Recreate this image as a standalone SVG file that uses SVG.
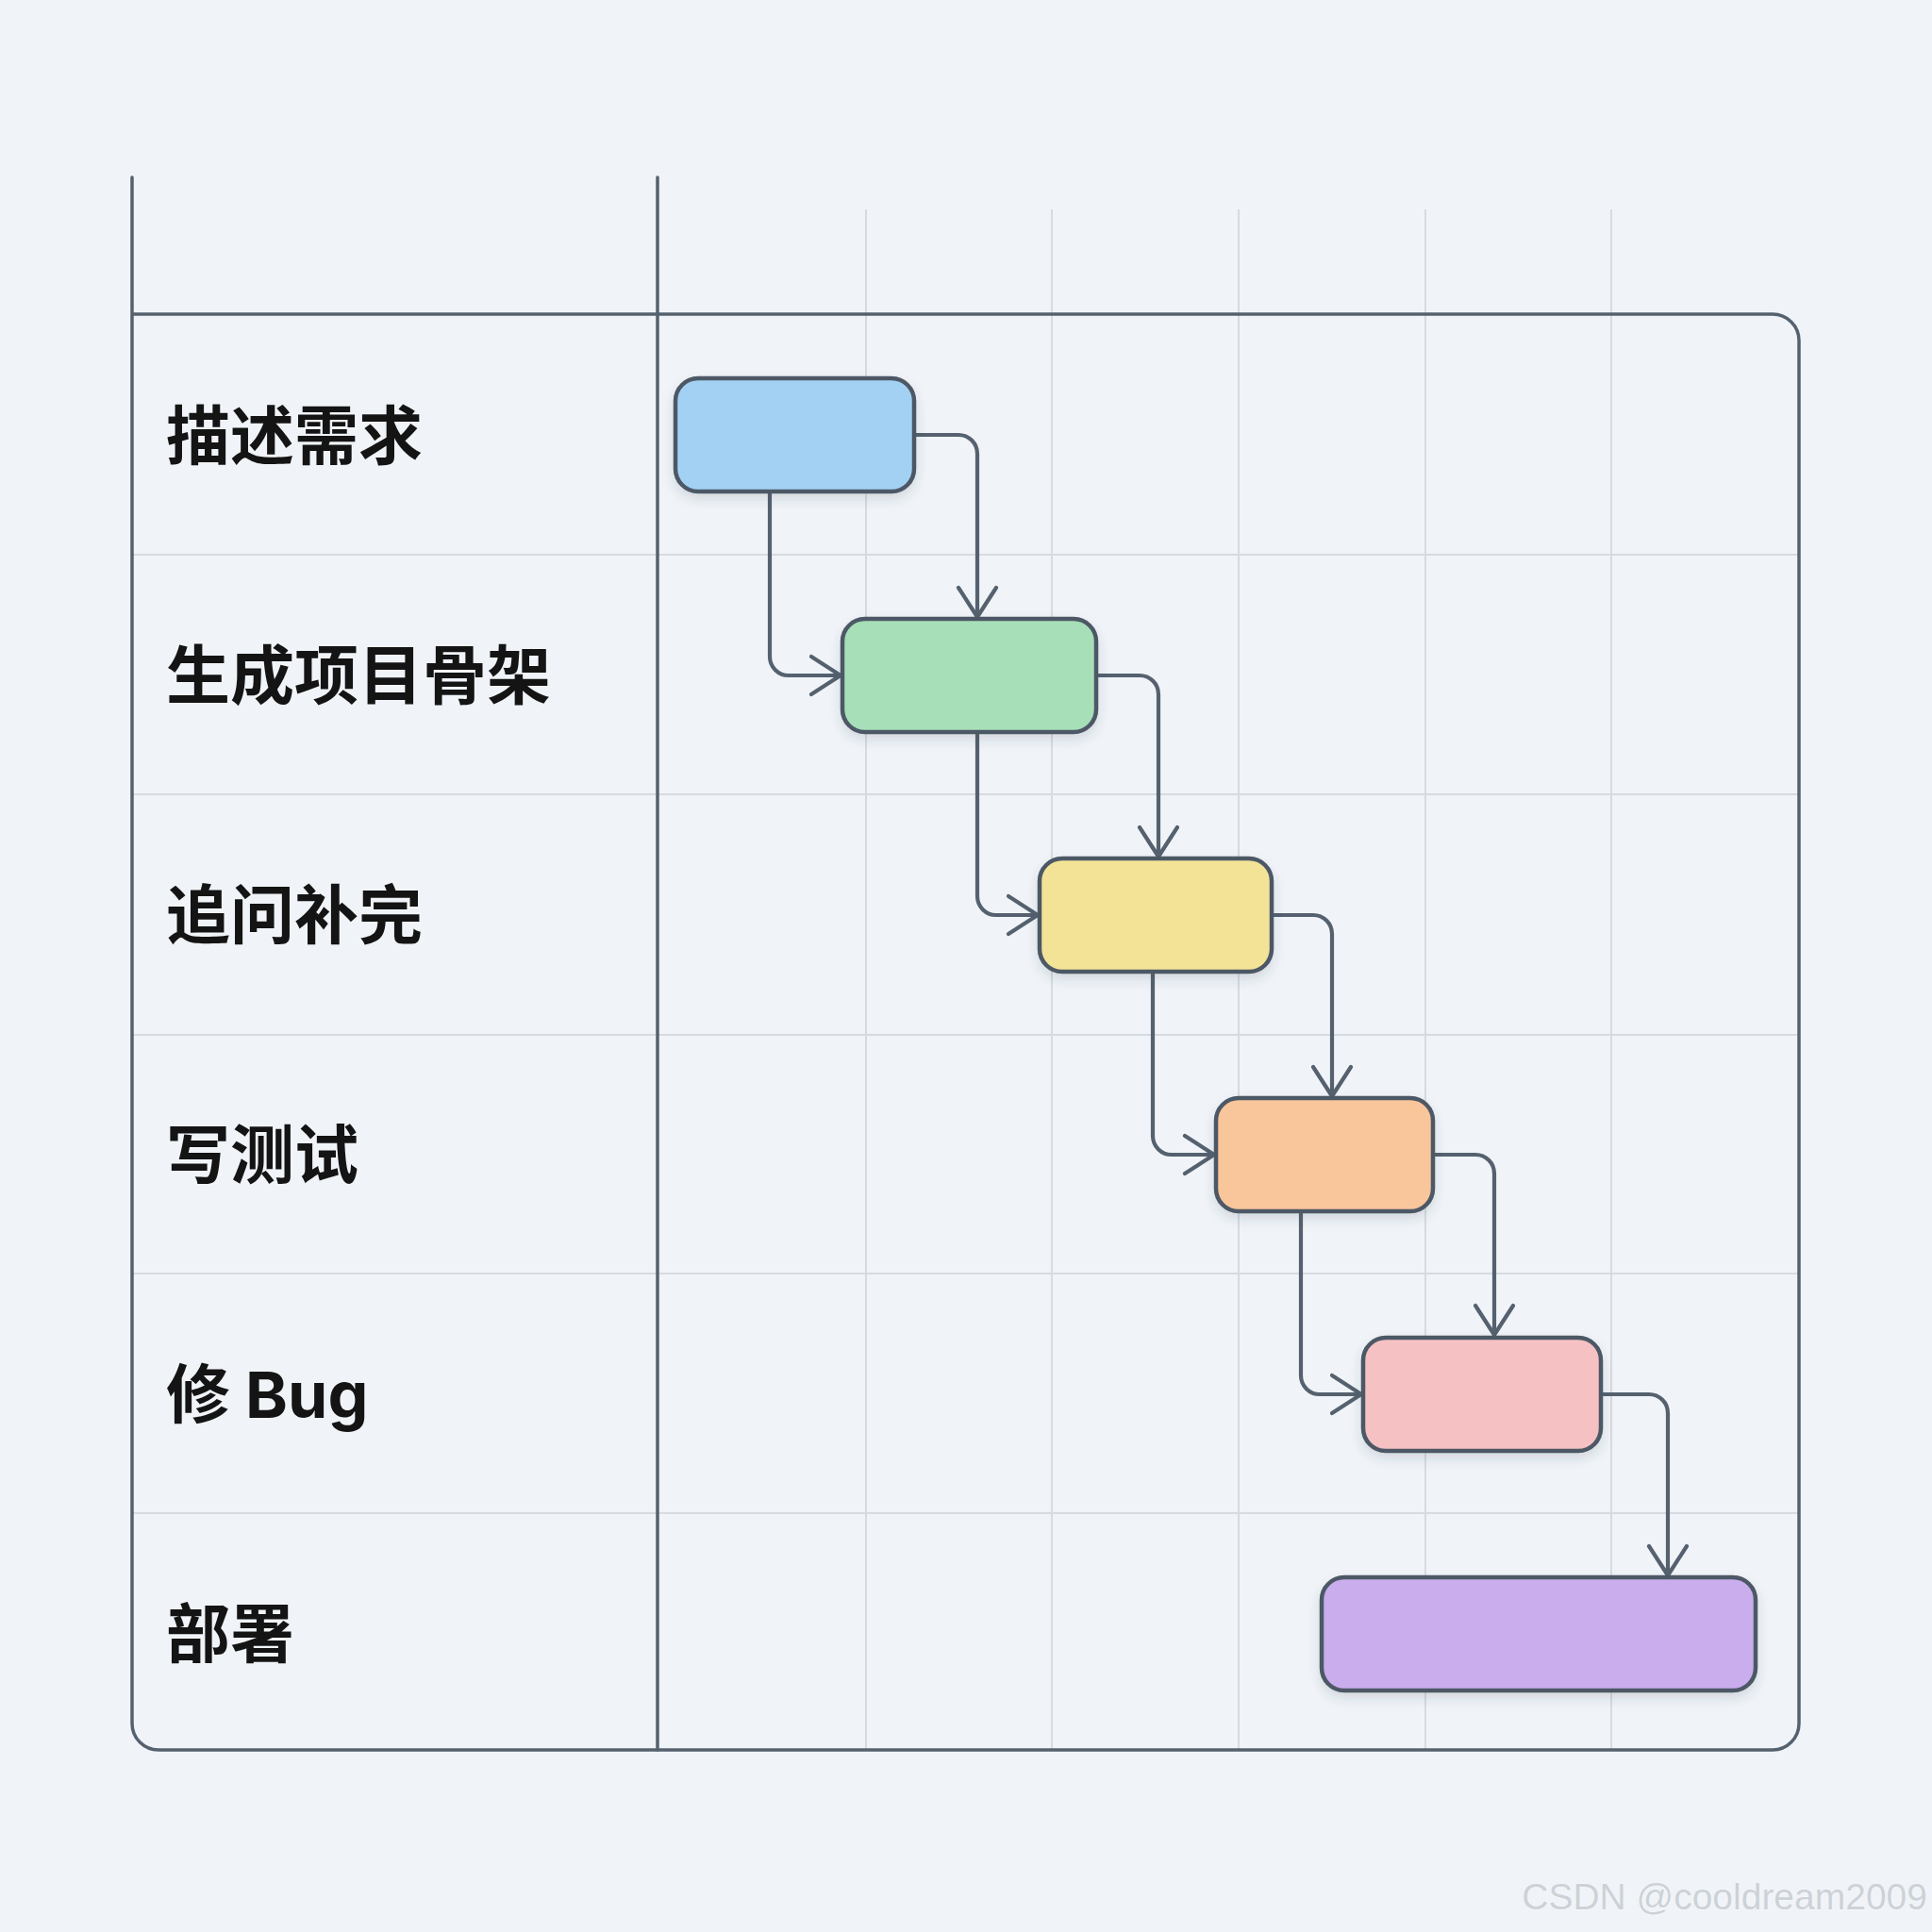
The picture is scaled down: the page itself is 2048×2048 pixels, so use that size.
<svg xmlns="http://www.w3.org/2000/svg" width="2048" height="2048" viewBox="0 0 2048 2048">
  <defs>
    <style>
      .frame { fill: none; stroke: #56616f; stroke-width: 3.5; stroke-linecap: round; }
      .grid { fill: none; stroke: #d6dbe1; stroke-width: 2; }
      .node { stroke: #4d5966; stroke-width: 4.5; filter: url(#shadow); }
      .conn { fill: none; stroke: #55616e; stroke-width: 4.2; marker-end: url(#arrow); }
      .label { font-family: "Inter", "Noto Sans CJK SC", sans-serif; font-size: 68px; font-weight: 700; fill: #141414; dominant-baseline: central; }
      .wm { font-family: "Liberation Sans", Arial, sans-serif; font-size: 39px; fill: #cdd2d7; stroke: #ffffff; stroke-width: 0.6; paint-order: stroke; }
    </style>
    <filter id="shadow" x="-20%" y="-30%" width="140%" height="170%">
      <feDropShadow dx="0" dy="6" stdDeviation="6" flood-color="#2c3a4a" flood-opacity="0.15"/>
    </filter>
    <marker id="arrow" markerUnits="userSpaceOnUse" markerWidth="50" markerHeight="50" viewBox="-40 -25 50 50" refX="0" refY="0" orient="auto">
      <path d="M-31,-20 L0,0 L-31,20" fill="none" stroke="#55616e" stroke-width="4.2" stroke-linecap="round" stroke-linejoin="round"/>
    </marker>
  </defs>
  <rect width="2048" height="2048" fill="#f0f4f8"/>

  <g id="grid">
    <line class="grid" x1="918" y1="222" x2="918" y2="1855"/>
    <line class="grid" x1="1115" y1="222" x2="1115" y2="1855"/>
    <line class="grid" x1="1313" y1="222" x2="1313" y2="1855"/>
    <line class="grid" x1="1511" y1="222" x2="1511" y2="1855"/>
    <line class="grid" x1="1708" y1="222" x2="1708" y2="1855"/>
    <line class="grid" x1="140" y1="588" x2="1907" y2="588"/>
    <line class="grid" x1="140" y1="842" x2="1907" y2="842"/>
    <line class="grid" x1="140" y1="1097" x2="1907" y2="1097"/>
    <line class="grid" x1="140" y1="1350" x2="1907" y2="1350"/>
    <line class="grid" x1="140" y1="1604" x2="1907" y2="1604"/>
  </g>

  <g id="frame">
    <path class="frame" d="M140,188 V1827 A28,28 0 0 0 168,1855 H1879 A28,28 0 0 0 1907,1827 V361 A28,28 0 0 0 1879,333 H140"/>
    <line class="frame" x1="697" y1="188" x2="697" y2="1855"/>
  </g>

  <g id="labels">
    <text class="label" x="176" y="462">描述需求</text>
    <text class="label" x="176" y="716">生成项目骨架</text>
    <text class="label" x="176" y="970">追问补完</text>
    <text class="label" x="176" y="1224">写测试</text>
    <text class="label" x="176" y="1478">修 Bug</text>
    <text class="label" x="176" y="1732">部署</text>
  </g>

  <g id="connectors">
    <path class="conn" d="M969,461 H1016 A20,20 0 0 1 1036,481 V654"/>
    <path class="conn" d="M816,521 V696 A20,20 0 0 0 836,716 H891"/>
    <path class="conn" d="M1162,716 H1208 A20,20 0 0 1 1228,736 V908"/>
    <path class="conn" d="M1036,776 V950 A20,20 0 0 0 1056,970 H1100"/>
    <path class="conn" d="M1348,970 H1392 A20,20 0 0 1 1412,990 V1162"/>
    <path class="conn" d="M1222,1030 V1204 A20,20 0 0 0 1242,1224 H1287"/>
    <path class="conn" d="M1519,1224 H1564 A20,20 0 0 1 1584,1244 V1415"/>
    <path class="conn" d="M1379,1284 V1458 A20,20 0 0 0 1399,1478 H1443"/>
    <path class="conn" d="M1697,1478 H1748 A20,20 0 0 1 1768,1498 V1670"/>
  </g>

  <g id="node-describe"><rect class="node" x="716" y="401" width="253" height="120" rx="24" fill="#a3d1f3"/></g>
  <g id="node-scaffold"><rect class="node" x="893" y="656" width="269" height="120" rx="24" fill="#a6dfb8"/></g>
  <g id="node-followup"><rect class="node" x="1102" y="910" width="246" height="120" rx="24" fill="#f2e397"/></g>
  <g id="node-tests"><rect class="node" x="1289" y="1164" width="230" height="120" rx="24" fill="#f9c59b"/></g>
  <g id="node-fixbug"><rect class="node" x="1445" y="1418" width="252" height="120" rx="24" fill="#f5c1c3"/></g>
  <g id="node-deploy"><rect class="node" x="1401" y="1672" width="460" height="120" rx="24" fill="#c9aded"/></g>

  <text class="wm" x="2043" y="2024" text-anchor="end">CSDN @cooldream2009</text>
</svg>
